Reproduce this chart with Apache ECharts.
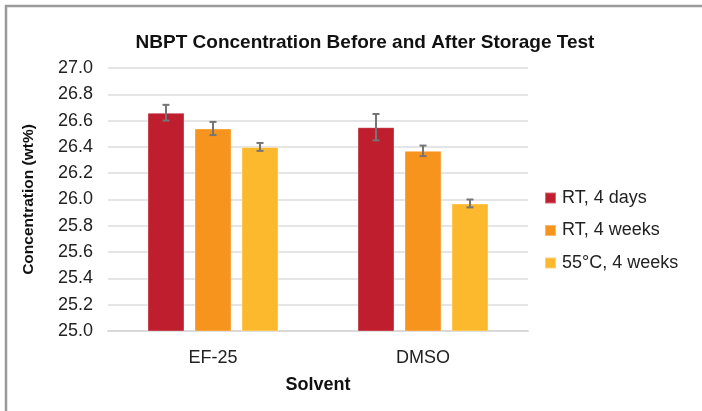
<!DOCTYPE html>
<html>
<head>
<meta charset="utf-8">
<script src="https://cdn.jsdelivr.net/npm/echarts@6/dist/echarts.min.js"></script>
<style>
html,body{margin:0;padding:0;background:#fff;}
#chart{width:702px;height:411px;}
</style>
</head>
<body>
<div id="chart"></div>
<script>
const categories = ['EF-25', 'DMSO'];
const seriesNames = ['RT, 4 days', 'RT, 4 weeks', '55°C, 4 weeks'];
const rt4days = [26.66, 26.55];
const rt4daysErr = [0.06, 0.10];
const rt4weeks = [26.54, 26.37];
const rt4weeksErr = [0.05, 0.04];
const c55weeks = [26.40, 25.97];
const c55weeksErr = [0.03, 0.03];

const values = [rt4days, rt4weeks, c55weeks];
const errors = [rt4daysErr, rt4weeksErr, c55weeksErr];
const colors = ['#BE1E2D', '#F7941D', '#FDB92E'];

const BAR_W = 37;
const BAR_GAP = 10;

const chart = echarts.init(document.getElementById('chart'));

const barSeries = values.map((vals, i) => ({
  name: seriesNames[i],
  type: 'bar',
  data: vals,
  barWidth: BAR_W,
  barGap: (BAR_GAP / BAR_W * 100) + '%',
  itemStyle: { color: colors[i], borderColor: 'rgba(255,255,255,0.35)', borderWidth: 1 },
  z: 2
}));

const errSeries = values.map((vals, i) => ({
  type: 'custom',
  name: seriesNames[i] + ' err',
  data: vals.map((v, j) => [j, v - errors[i][j], v + errors[i][j]]),
  z: 5,
  silent: true,
  renderItem: function (params, api) {
    const c = api.value(0);
    const lo = api.coord([c, api.value(1)]);
    const hi = api.coord([c, api.value(2)]);
    const off = (i - 1) * (BAR_W + BAR_GAP);
    const x = lo[0] + off;
    const cap = 3.5;
    const st = { stroke: '#757575', lineWidth: 2 };
    return {
      type: 'group',
      children: [
        { type: 'line', shape: { x1: x, y1: lo[1], x2: x, y2: hi[1] }, style: st },
        { type: 'line', shape: { x1: x - cap, y1: lo[1], x2: x + cap, y2: lo[1] }, style: st },
        { type: 'line', shape: { x1: x - cap, y1: hi[1], x2: x + cap, y2: hi[1] }, style: st }
      ]
    };
  }
}));

chart.setOption({
  animation: false,
  backgroundColor: '#fff',
  graphic: [{
    type: 'rect',
    shape: { x: 6, y: 6, width: 800, height: 500 },
    style: { fill: 'none', stroke: '#9a9a9a', lineWidth: 2.5 },
    silent: true
  }],
  title: {
    text: 'NBPT Concentration Before and After Storage Test',
    left: 360, top: 28, textAlign: 'center',
    textStyle: { fontFamily: 'Liberation Sans', fontWeight: 'bold', fontSize: 19, color: '#111' }
  },
  legend: {
    orient: 'vertical',
    left: 544, top: 189,
    padding: 0,
    itemWidth: 11, itemHeight: 11, itemGap: 14.5,
    icon: 'rect',
    data: seriesNames,
    textStyle: { fontFamily: 'Liberation Sans', fontSize: 18, color: '#222', padding: [0, 0, 0, 1] }
  },
  grid: { left: 108, right: 174, top: 68, bottom: 80 },
  xAxis: {
    type: 'category',
    data: categories,
    name: 'Solvent',
    nameLocation: 'middle',
    nameGap: 45,
    nameTextStyle: { fontFamily: 'Liberation Sans', fontWeight: 'bold', fontSize: 18, color: '#111' },
    axisLine: { lineStyle: { color: '#d9d9d9', width: 2 } },
    axisTick: { show: false },
    axisLabel: { fontFamily: 'Liberation Sans', fontSize: 18, color: '#222', margin: 18 }
  },
  yAxis: {
    type: 'value',
    min: 25.0, max: 27.0, interval: 0.2,
    name: 'Concentration (wt%)',
    nameLocation: 'middle',
    nameGap: 71,
    nameTextStyle: { fontFamily: 'Liberation Sans', fontWeight: 'bold', fontSize: 15.5, color: '#111' },
    axisLine: { show: false },
    axisTick: { show: false },
    splitLine: { lineStyle: { color: '#dcdcdc', width: 1.5 } },
    axisLabel: {
      fontFamily: 'Liberation Sans', fontSize: 18, color: '#222', margin: 15,
      formatter: v => v.toFixed(1)
    }
  },
  series: barSeries.concat(errSeries)
});
</script>
</body>
</html>
